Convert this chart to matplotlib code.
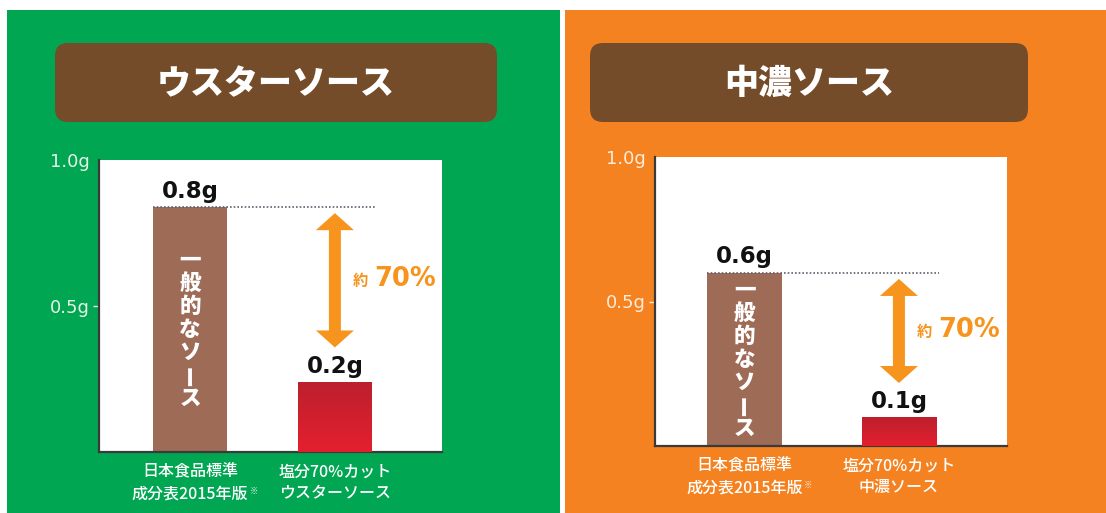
import numpy as np
import matplotlib
matplotlib.use("Agg")
import matplotlib.pyplot as plt
from matplotlib.patches import Rectangle, FancyBboxPatch
from matplotlib.colors import LinearSegmentedColormap

plt.rcParams["font.family"] = ["Noto Sans CJK JP", "DejaVu Sans"]

# ── data ─────────────────────────────────────────────────────────────────────
panel_titles = ["ウスターソース", "中濃ソース"]
categories_worcester = ["日本食品標準\n成分表2015年版", "塩分70%カット\nウスターソース"]
categories_chuno = ["日本食品標準\n成分表2015年版", "塩分70%カット\n中濃ソース"]
salt_worcester = [0.84, 0.24]
salt_chuno = [0.60, 0.10]
value_labels_worcester = ["0.8g", "0.2g"]
value_labels_chuno = ["0.6g", "0.1g"]
ytick_values = [0.5, 1.0]
ytick_labels = ["0.5g", "1.0g"]
bar_caption = "一般的なソース"
reduction_prefix = "約"
reduction_label = "70%"

# ── style ────────────────────────────────────────────────────────────────────
GREEN = "#00A651"
ORANGE = "#F58220"
TITLE_BROWN = "#754C29"
BAR_BROWN = "#9E6B57"
ARROW_OR = "#F7941D"
RED_TOP, RED_BOT = "#BC1F2D", "#E4202F"
W, H = 1106, 513

fig = plt.figure(figsize=(W / 100, H / 100), dpi=100, facecolor="white")
bg = fig.add_axes([0, 0, 1, 1], zorder=0)
bg.set_xlim(0, W); bg.set_ylim(H, 0); bg.axis("off")

panels = [
    dict(title=panel_titles[0], cats=categories_worcester, vals=salt_worcester,
         vlab=value_labels_worcester, bg=(7, 10, 560, 513), color=GREEN,
         tick_col="#E4F4E8", tbox=(55, 43, 497, 122), ax=(99, 160, 442, 452),
         xlim=(-0.63, 1.74), bw=0.51),
    dict(title=panel_titles[1], cats=categories_chuno, vals=salt_chuno,
         vlab=value_labels_chuno, bg=(565, 10, 1106, 513), color=ORANGE,
         tick_col="#FEEBD8", tbox=(590, 43, 1028, 122), ax=(655, 157, 1007, 446),
         xlim=(-0.58, 1.70), bw=0.48),
]

axes = []
for p in panels:
    x0, y0, x1, y1 = p["bg"]
    bg.add_patch(Rectangle((x0, y0), x1 - x0, y1 - y0, color=p["color"], lw=0))
    tx0, ty0, tx1, ty1 = p["tbox"]
    bg.add_patch(FancyBboxPatch((tx0, ty0), tx1 - tx0, ty1 - ty0,
                                boxstyle="round,pad=0,rounding_size=13",
                                fc=TITLE_BROWN, ec="none"))
    bg.text((tx0 + tx1) / 2, (ty0 + ty1) / 2 + 1, p["title"], ha="center", va="center",
            color="white", fontsize=24.5, fontweight="heavy")

    ax0, ay0, ax1, ay1 = p["ax"]
    ax = fig.add_axes([ax0 / W, 1 - ay1 / H, (ax1 - ax0) / W, (ay1 - ay0) / H], zorder=2)
    ax.set_facecolor("white")
    ax.set_xlim(*p["xlim"]); ax.set_ylim(0, 1.0)
    for s in ["top", "right"]:
        ax.spines[s].set_visible(False)
    for s in ["left", "bottom"]:
        ax.spines[s].set_color("#3a3a3a"); ax.spines[s].set_linewidth(1.6)
    ax.set_yticks(ytick_values)
    ax.set_yticklabels(ytick_labels, family="DejaVu Sans", fontsize=13, color=p["tick_col"])
    ax.tick_params(axis="y", length=4, width=1, color=p["tick_col"], pad=3)
    ax.yaxis.get_major_ticks()[1].tick1line.set_visible(False)
    ax.set_xticks([])

    vals = p["vals"]; bw = p["bw"]
    xs = np.arange(len(vals))
    bars = ax.bar(xs, vals, width=bw, color=[BAR_BROWN, RED_BOT], lw=0, zorder=2)
    # red gradient on the reduced-salt bar
    cmap = LinearSegmentedColormap.from_list("red", [RED_BOT, RED_TOP])
    im = ax.imshow(np.linspace(0, 1, 128).reshape(-1, 1), cmap=cmap, origin="lower",
                   extent=[xs[1] - bw / 2, xs[1] + bw / 2, 0, vals[1]],
                   aspect="auto", zorder=3)
    im.set_clip_path(bars[1])
    ax.set_xlim(*p["xlim"]); ax.set_ylim(0, 1.0)

    # value labels above bars
    for x, v, lab in zip(xs, vals, p["vlab"]):
        ax.annotate(lab, xy=(x, v), xytext=(0, 3), textcoords="offset points",
                    ha="center", va="bottom", fontsize=16.5, fontweight="bold",
                    family="DejaVu Sans", color="#111111", zorder=5)

    # dotted reference at the standard value
    ax.plot([xs[0] - bw / 2, xs[1] + bw / 2 + 0.02], [vals[0], vals[0]],
            ls=(0, (1, 1.2)), color="#5f5f70", lw=1.2, zorder=4)

    # vertical caption inside the brown bar
    n = len(bar_caption)
    for i, ch in enumerate(bar_caption):
        ax.annotate(ch, xy=(xs[0], vals[0] / 2), xytext=(0, -(i - (n - 1) / 2) * 16.5),
                    textcoords="offset points", ha="center", va="center",
                    fontsize=15.5, fontweight="heavy", color="white",
                    rotation=90 if ch == "ー" else 0, zorder=5)

    # double-headed arrow between the two levels
    sx = (ax1 - ax0) / (p["xlim"][1] - p["xlim"][0])
    sy = (ay1 - ay0) / 1.0
    top, bot = vals[0] - 0.022, vals[1] + 0.118
    hw, sw, hl = 19 / sx, 6 / sx, 17 / sy
    cx = xs[1]
    px = [cx, cx + hw, cx + sw, cx + sw, cx + hw, cx, cx - hw, cx - sw, cx - sw, cx - hw]
    py = [top, top - hl, top - hl, bot + hl, bot + hl, bot, bot + hl, bot + hl, top - hl, top - hl]
    ax.fill(px, py, color=ARROW_OR, lw=0, zorder=4)
    ymid = (top + bot) / 2 - 0.02
    ax.annotate(reduction_prefix, xy=(cx, ymid), xytext=(13, 0), textcoords="offset points",
                ha="left", va="baseline", fontsize=11, fontweight="bold", color=ARROW_OR)
    ax.annotate(reduction_label, xy=(cx, ymid), xytext=(28, 0), textcoords="offset points",
                ha="left", va="baseline", fontsize=18.5, fontweight="bold",
                family="DejaVu Sans", color=ARROW_OR)

    # category labels under the axis
    p["lines"] = []
    for x, cat in zip(xs, p["cats"]):
        l1, l2 = cat.split("\n")
        ax.annotate(l1, xy=(x, 0), xycoords=("data", "axes fraction"), xytext=(0, -14.5),
                    textcoords="offset points", ha="center", va="center",
                    fontsize=11.5, fontweight="medium", color="white", annotation_clip=False)
        t2 = ax.annotate(l2, xy=(x, 0), xycoords=("data", "axes fraction"), xytext=(0, -30),
                         textcoords="offset points", ha="center", va="center",
                         fontsize=11.5, fontweight="medium", color="white",
                         annotation_clip=False)
        p["lines"].append(t2)
    axes.append(ax)

# footnote mark after the standard-table label
fig.canvas.draw()
r = fig.canvas.get_renderer()
for p in panels:
    ext = p["lines"][0].get_window_extent(r)
    bg.text(ext.x1 + 1, H - ext.y1 + 2, "※", fontsize=6, color="#f4f4f4",
            ha="left", va="top", zorder=3)

fig.savefig("out.png", dpi=100, facecolor="white")
